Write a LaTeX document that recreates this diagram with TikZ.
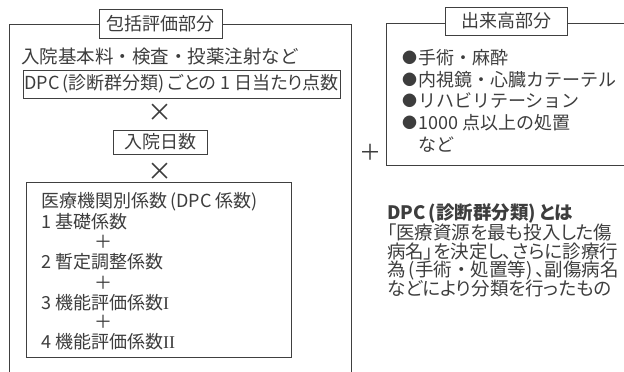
\documentclass[tikz,border=0pt]{standalone}
\usepackage{fontspec}
\setmainfont{Noto Sans CJK JP}
\newfontfamily\jp{Noto Sans CJK JP}
\newfontfamily\paltfont[RawFeature=+palt]{Noto Sans CJK JP}
\newfontfamily\romanfont{Liberation Serif}
\definecolor{textgray}{gray}{0.24}
\definecolor{linegray}{gray}{0.25}
\newcommand{\dotmark}{\makebox[16pt][l]{\raisebox{1.2pt}{\fontsize{15}{15}\selectfont●}}}
\begin{document}
\begin{tikzpicture}[x=1pt,y=-1pt,
  frame/.style={draw=linegray, line width=0.9pt},
  boxed/.style={draw=linegray, line width=0.9pt, fill=white, inner sep=0pt, text=textgray,
                font=\fontsize{18}{20}\selectfont},
  txt/.style={inner sep=0pt, text=textgray, font=\fontsize{18}{20}\selectfont, anchor=west},
  desc/.style={txt, font=\fontsize{18.5}{20}\paltfont},
  op/.style={inner sep=0pt, text=textgray, font=\fontsize{25}{25}\selectfont}]
\useasboundingbox (0,0) rectangle (624,372);
\clip (0,0) rectangle (624,372);
% left frame
\draw[frame] (9,380) -- (9,24) -- (351,24) -- (351,380);
\node[boxed, minimum width=123pt, minimum height=29pt] (t1) at (160.5,23.5) {包括評価部分};
\node[txt, font=\fontsize{18.5}{20}\selectfont] (l1) at (21,56) {入院基本料・検査・投薬注射など};
\node[boxed, minimum width=317pt, minimum height=28pt, font=\fontsize{18}{20}\paltfont] (dpc) at (181.5,84) {DPC\,(診断群分類)\,ごとの 1 日当たり点数};
\node[op] (x1) at (160,113) {×};
\node[boxed, minimum width=94pt, minimum height=24pt] (days) at (160,142) {入院日数};
\node[op] (x2) at (160,172) {×};
\node[boxed, minimum width=265pt, minimum height=175pt] (coef) at (158.5,269.5) {};
\node[txt] (c0) at (41,202) {医療機関別係数\,(DPC 係数)};
\node[txt] (c1) at (41,222) {1 基礎係数};
\node[op, font=\fontsize{18}{18}\selectfont] (p1) at (103,242) {＋};
\node[txt] (c2) at (41,262) {2 暫定調整係数};
\node[op, font=\fontsize{18}{18}\selectfont] (p2) at (103,283) {＋};
\node[txt] (c3) at (41,303) {3 機能評価係数{\romanfont I}};
\node[op, font=\fontsize{18}{18}\selectfont] (p3) at (103,322) {＋};
\node[txt] (c4) at (41,342) {4 機能評価係数{\romanfont II}};
% plus between
\node[op, font=\fontsize{22}{22}\selectfont] (plus) at (370,152) {＋};
% right frame
\draw[frame] (640,23) -- (386,23) -- (386,165) -- (640,165);
\node[boxed, minimum width=122pt, minimum height=28pt] (t2) at (506,21) {出来高部分};
\node[txt] (b1) at (402,58) {\dotmark 手術・麻酔};
\node[txt] (b2) at (402,80) {\dotmark 内視鏡・心臓カテーテル};
\node[txt] (b3) at (402,101) {\dotmark リハビリテーション};
\node[txt] (b4) at (402,123) {\dotmark 1000 点以上の処置};
\node[txt] (b5) at (418,145) {など};
% DPC description
\node[desc, font=\fontsize{18.5}{20}\paltfont\bfseries] (d0) at (387,213) {DPC\,(診断群分類)\,とは};
\node[desc] (d1) at (387,232) {「医療資源を最も投入した傷};
\node[desc] (d2) at (387,251) {病名」を決定し、さらに診療行};
\node[desc] (d3) at (387,270) {為\,(手術{\jp ・}処置等)\,、副傷病名};
\node[desc] (d4) at (387,289) {などにより分類を行ったもの};
\end{tikzpicture}
\end{document}
